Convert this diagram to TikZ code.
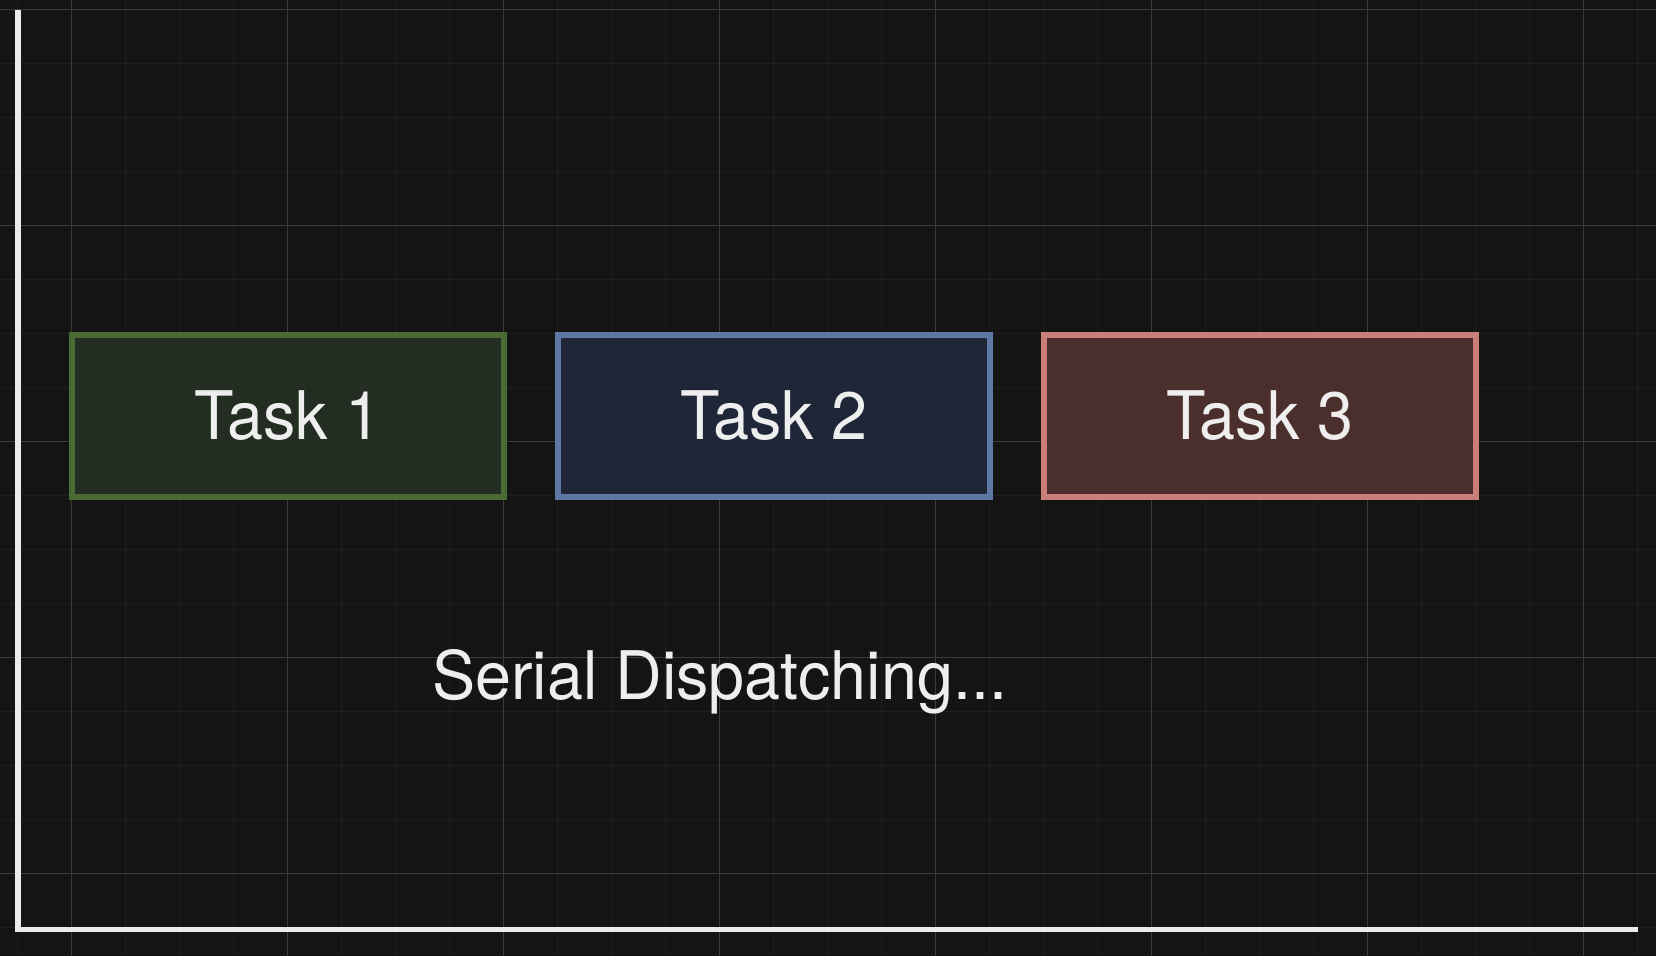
\documentclass[tikz,border=0pt]{standalone}
\usepackage{fontspec}
\setmainfont[FakeStretch=0.965]{TeX Gyre Heros}
\definecolor{bg}{HTML}{141414}
\definecolor{gridminor}{HTML}{1F1F1F}
\definecolor{gridmajor}{HTML}{3A3A3A}
\definecolor{axiscol}{HTML}{EBEBEB}
\definecolor{txt}{HTML}{EEEEEE}
\definecolor{gfill}{HTML}{232D22}
\definecolor{gdraw}{HTML}{4B6A31}
\definecolor{bfill}{HTML}{1E2637}
\definecolor{bdraw}{HTML}{5D79A3}
\definecolor{rfill}{HTML}{4B2F2D}
\definecolor{rdraw}{HTML}{C97E7A}
\tikzset{
  taskbox/.style={draw=#1, line width=5.3pt, minimum width=432pt, minimum height=162pt,
    inner sep=0pt, text=txt, font=\fontsize{67}{80}\selectfont},
  minorline/.style={gridminor, line width=1.2pt},
  majorline/.style={gridmajor, line width=1.2pt},
  axisline/.style={axiscol, line width=5.5pt, line cap=rect},
  caption/.style={text=txt, font=\fontsize{67}{80}\selectfont, inner sep=0pt}
}
\begin{document}
\begin{tikzpicture}[x=1pt, y=-1pt]
\fill[bg] (0,0) rectangle (1656,956);
\useasboundingbox (0,0) rectangle (1656,956);
% minor grid
\foreach \i in {0,...,30} {
  \draw[minorline] ({17.7+54*\i},0) -- ({17.7+54*\i},956);
}
\foreach \j in {0,...,17} {
  \draw[minorline] (0,{9.3+54*\j}) -- (1656,{9.3+54*\j});
}
% major grid
\foreach \i in {0,...,7} {
  \draw[majorline] ({71.7+216*\i},0) -- ({71.7+216*\i},956);
}
\foreach \j in {0,...,4} {
  \draw[majorline] (0,{9.3+216*\j}) -- (1656,{9.3+216*\j});
}
% axes
\coordinate (ytop) at (18,13);
\coordinate (origin) at (18,929.5);
\coordinate (xend) at (1635,929.5);
\draw[axisline] (ytop) -- (origin) -- (xend);
% tasks
\node[taskbox=gdraw, fill=gfill] (t1) at (288,416) {Task 1};
\node[taskbox=bdraw, fill=bfill] (t2) at (774,416) {Task 2};
\node[taskbox=rdraw, fill=rfill] (t3) at (1260,416) {Task 3};
\node[caption, anchor=base west] (cap) at (432,699) {Serial Dispatching...};
\end{tikzpicture}
\end{document}
